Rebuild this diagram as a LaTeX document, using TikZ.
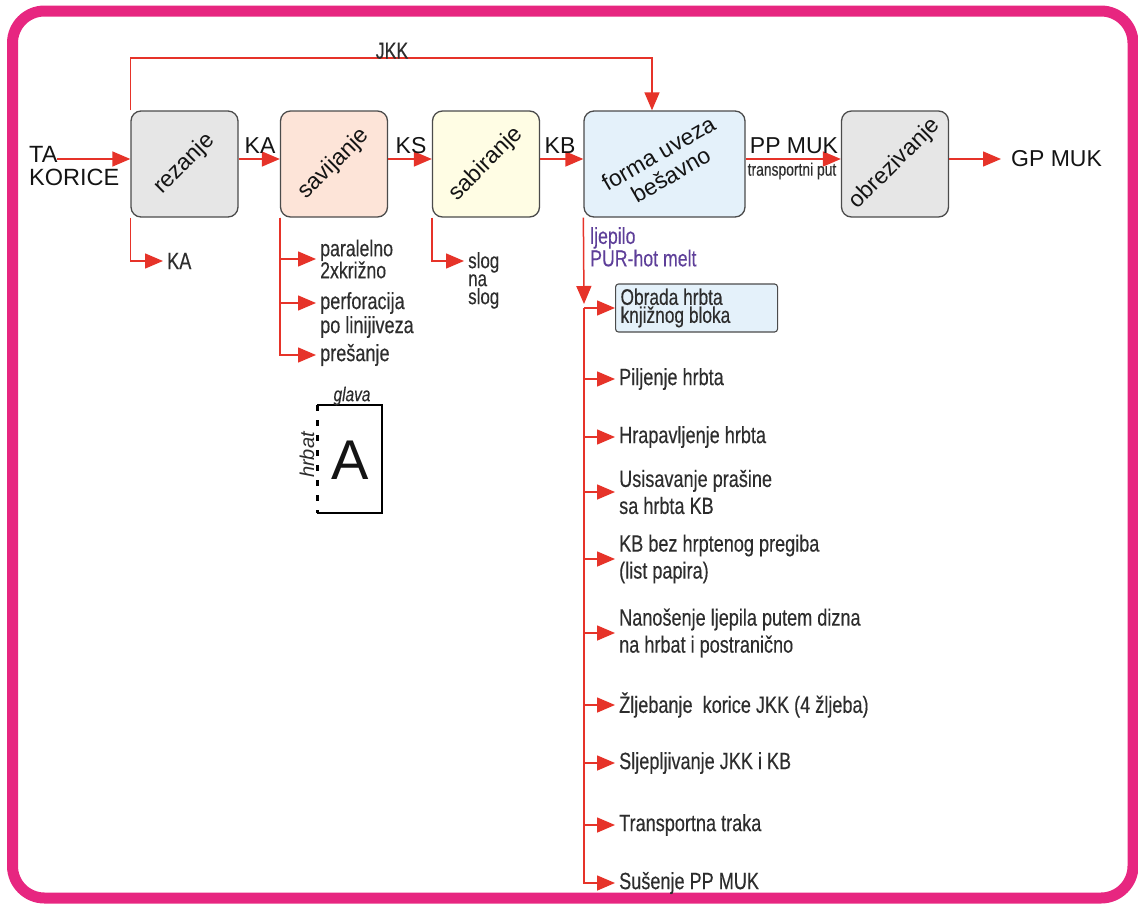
\documentclass[tikz,border=0pt]{standalone}
\usepackage{fontspec}
\setmainfont{Liberation Sans}
\newfontfamily\condfont[FakeStretch=0.77,FakeBold=0.3]{Liberation Sans}
\usetikzlibrary{arrows.meta}

\definecolor{framepink}{RGB}{231,38,128}
\definecolor{arrred}{RGB}{230,51,41}
\definecolor{boxgray}{RGB}{75,75,75}
\definecolor{notegray}{RGB}{45,45,45}
\definecolor{labelblack}{RGB}{20,20,20}
\definecolor{gluepurple}{RGB}{94,63,153}
\definecolor{rezfill}{RGB}{230,230,230}
\definecolor{savfill}{RGB}{253,228,216}
\definecolor{sabfill}{RGB}{255,253,228}
\definecolor{formafill}{RGB}{228,241,250}

\begin{document}
\begin{tikzpicture}[x=1pt,y=1pt]
        \tikzstyle{every node}+=[inner sep=0pt]
        \tikzstyle{procbox}=[draw=boxgray, line width=1.3pt, rounded corners=10pt, minimum width=107pt, minimum height=106pt]
        \tikzstyle{flow}=[draw=arrred, line width=1.5pt, -{Triangle[length=18pt,width=15pt]}]
        \tikzstyle{lbl}=[text=labelblack, font=\fontsize{23}{25}\selectfont]
        \tikzstyle{note}=[anchor=west, inner xsep=4pt, align=left, text=notegray, font=\condfont\fontsize{23.5}{27}\selectfont]
        \useasboundingbox (0,0) rectangle (1138,-903);
        \draw [framepink, line width=11pt, rounded corners=32pt] (12.5,-11) rectangle (1133,-898);
        % process boxes
        \node [procbox, fill=rezfill] (rez) at (184.5,-164) {};
        \node [lbl, rotate=45] (rezt) at (rez) {rezanje};
        \node [procbox, fill=savfill] (sav) at (334,-164) {};
        \node [lbl, rotate=45] (savt) at (sav) {savijanje};
        \node [procbox, fill=sabfill] (sab) at (486,-164) {};
        \node [lbl, rotate=45] (sabt) at (sab) {sabiranje};
        \node [procbox, fill=formafill, minimum width=161pt] (forma) at (664.5,-164) {};
        \node [lbl, rotate=30, align=center] (format) at (forma) {forma uveza\\bešavno};
        \node [procbox, fill=rezfill] (obr) at (895,-164) {};
        \node [lbl, rotate=45] (obrt) at (obr) {obrezivanje};
        % main flow
        \node [lbl, anchor=north west, align=left, font=\fontsize{23.5}{23}\selectfont] (ta) at (29,-146) {TA\\KORICE};
        \coordinate (tain) at (57,-159);
        \draw [flow] (tain) -- ([yshift=5pt]rez.west);
        \draw [flow] ([yshift=5pt]rez.east) -- ([yshift=5pt]sav.west);
        \node [lbl] (ka) at (260,-146) {KA};
        \draw [flow] ([yshift=5pt]sav.east) -- ([yshift=5pt]sab.west);
        \node [lbl] (ks) at (411,-146) {KS};
        \draw [flow] ([yshift=5pt]sab.east) -- ([yshift=5pt]forma.west);
        \node [lbl] (kb) at (560,-146) {KB};
        \draw [flow] ([yshift=5pt]forma.east) -- ([yshift=5pt]obr.west);
        \node [lbl] (ppmuk) at (794,-146) {PP MUK};
        \node [text=notegray, font=\condfont\fontsize{18}{18}\selectfont] (tput) at (792,-171) {transportni put};
        \node [lbl, anchor=west] (gp) at (1011,-159) {GP MUK};
        \draw [flow, shorten >=10pt] ([yshift=5pt]obr.east) -- (gp.west);
        % JKK
        \coordinate (jkk) at (652,-58);
        \draw [flow] (rez.north west) |- (jkk) -- (jkk |- forma.north);
        \node [anchor=south, text=notegray, font=\condfont\fontsize{23}{23}\selectfont] (jkklbl) at (392,-59) {JKK};
        % rezanje
        \node [note] (ka2) at (163,-261) {KA};
        \draw [flow] (rez.south west) |- (ka2.west);
        % savijanje
        \node [note, font=\condfont\fontsize{23}{22}\selectfont] (par) at (316,-259) {paralelno\\2xkrižno};
        \node [note] (perf) at (316,-303) {perforacija};
        \node [note] (polin) at (316,-327) {po linijiveza};
        \node [note] (pres) at (316,-355) {prešanje};
        \draw [flow] (sav.south west) |- (par.west);
        \draw [flow] (sav.south west) |- (perf.west);
        \draw [flow] (sav.south west) |- (pres.west);
        % sabiranje
        \node [note, anchor=north west, font=\condfont\fontsize{22}{18}\selectfont] (slg) at (464,-252) {slog\\na\\slog};
        \draw [flow] (sab.south west) |- ([yshift=-9pt]slg.north west);
        % page
        \draw [black, line width=1.2pt] (317,-405) -- (382,-405) -- (382,-513) -- (317,-513);
        \draw [black, line width=3pt, dash pattern=on 6pt off 9pt] (317,-405) -- (317,-513);
        \node [text=notegray, font=\condfont\itshape\fontsize{20}{20}\selectfont] (glava) at (352,-396) {glava};
        \node [rotate=90, text=notegray, font=\itshape\fontsize{20}{20}\selectfont] (hrbat) at (307,-455) {hrbat};
        \node [text=labelblack, font=\fontsize{56}{56}\selectfont] (bigA) at (350,-460) {A};
        % forma uveza
        \node [note, anchor=north west, inner xsep=0pt, text=gluepurple, font=\condfont\fontsize{23}{21}\selectfont] (glue) at (590,-227) {ljepilo\\PUR-hot melt};
        \coordinate (gluein) at (584,-304);
        \draw [flow] (forma.south west) -- (gluein);
        \coordinate (spine) at (584,-308);
        \node [draw=boxgray, line width=1.1pt, fill=formafill, rounded corners=3pt, anchor=west, minimum width=162pt, minimum height=48pt, text width=152pt, align=flush left, inner xsep=5pt, text=notegray, font=\condfont\fontsize{22.5}{18}\selectfont] (obrada) at (615,-308) {Obrada hrbta\\knjižnog bloka};
        \node [note] (pilj) at (615,-379) {Piljenje hrbta};
        \node [note] (hrap) at (615,-437) {Hrapavljenje hrbta};
        \node [note] (usis) at (615,-492) {Usisavanje prašine\\sa hrbta KB};
        \node [note] (kbbez) at (615,-559) {KB bez hrptenog pregiba\\(list papira)};
        \node [note] (nanos) at (615,-633) {Nanošenje ljepila putem dizna\\na hrbat i postranično};
        \node [note] (zljeb) at (615,-705) {Žljebanje\ \ korice JKK (4 žljeba)};
        \node [note] (sljep) at (615,-763) {Sljepljivanje JKK i KB};
        \node [note] (trak) at (615,-825) {Transportna traka};
        \node [note] (susen) at (615,-883) {Sušenje PP MUK};
        \draw [flow] (spine) -- (obrada.west);
        \draw [flow] (spine) |- (pilj.west);
        \draw [flow] (spine) |- (hrap.west);
        \draw [flow] (spine) |- (usis.west);
        \draw [flow] (spine) |- (kbbez.west);
        \draw [flow] (spine) |- (nanos.west);
        \draw [flow] (spine) |- (zljeb.west);
        \draw [flow] (spine) |- (sljep.west);
        \draw [flow] (spine) |- (trak.west);
        \draw [flow] (spine) |- (susen.west);
\end{tikzpicture}
\end{document}
